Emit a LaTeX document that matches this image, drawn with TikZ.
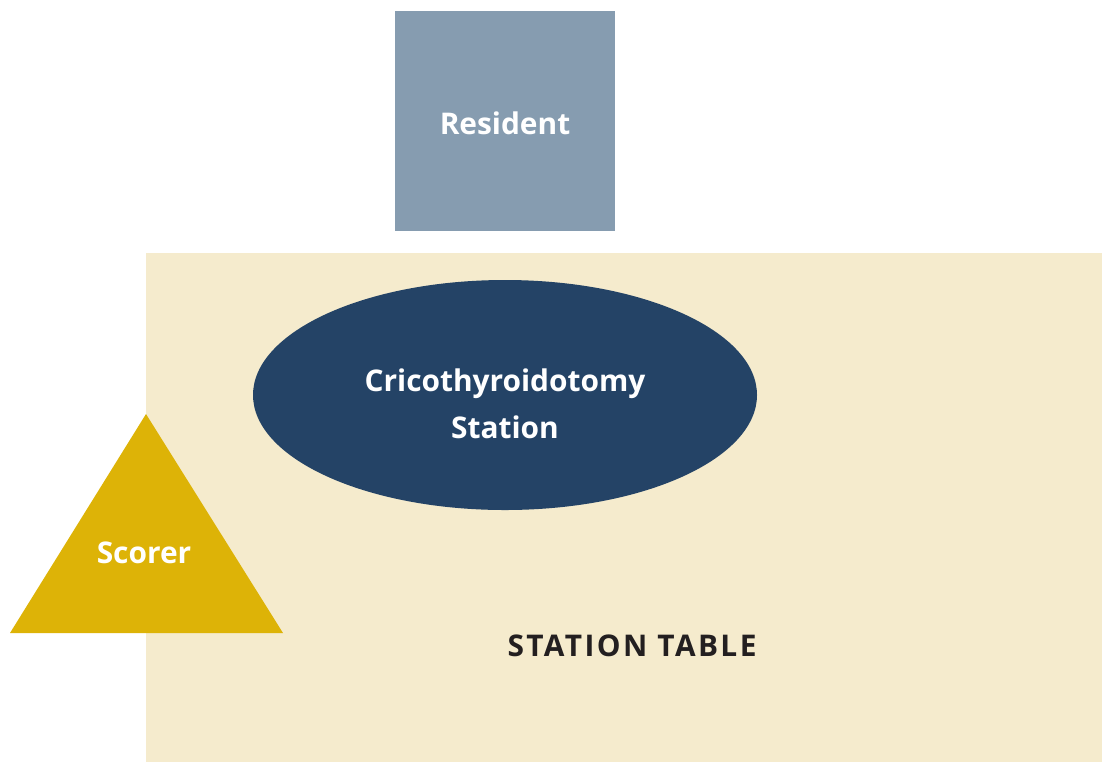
\documentclass[tikz,border=0pt]{standalone}
\usepackage{fontspec}
\setmainfont{Open Sans}
\usetikzlibrary{shapes.geometric}

\definecolor{residentblue}{HTML}{869CB0}
\definecolor{tablecream}{HTML}{F5EBCD}
\definecolor{stationnavy}{HTML}{244366}
\definecolor{scorergold}{HTML}{DDB307}
\definecolor{labeldark}{HTML}{231F20}

\begin{document}
\begin{tikzpicture}[x=0.02cm, y=-0.02cm,
  whitelabel/.style={text=white, font=\fontsize{17}{27}\selectfont\bfseries, align=center},
  darklabel/.style={text=labeldark, font=\fontsize{17}{21}\selectfont\bfseries\addfontfeatures{LetterSpace=8}}]

\useasboundingbox (0,0) rectangle (1102,762);

%draw the station table
\fill[tablecream] (146,253) rectangle (1102,762);

%draw the resident
\fill[residentblue] (395,11) rectangle (615,231);
\node[whitelabel] (resident) at (505,123) {Resident};

%draw the station
\fill[stationnavy] (505,395) ellipse [x radius=252, y radius=115];
\node[whitelabel] (station) at (505,404) {Cricothyroidotomy\\Station};

%draw the scorer
\fill[scorergold] (146,414) -- (283,633) -- (10,633) -- cycle;
\node[whitelabel] (scorer) at (144,553) {Scorer};

\node[darklabel] (table) at (632,646) {STATION TABLE};

\end{tikzpicture}
\end{document}
